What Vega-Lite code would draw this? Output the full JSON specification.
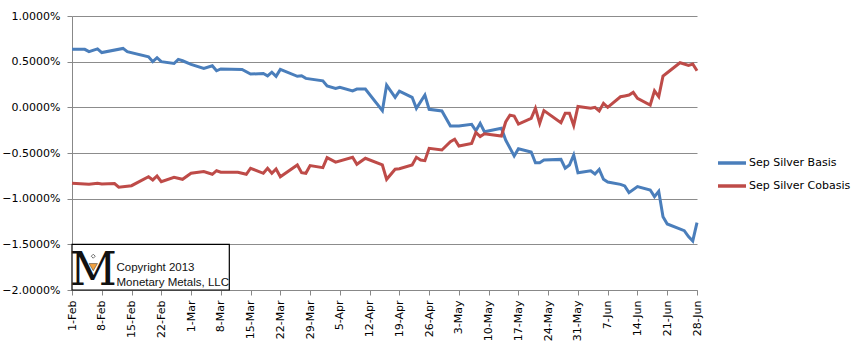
{
  "$schema": "https://vega.github.io/schema/vega-lite/v6.json",
  "width": 625,
  "height": 274,
  "autosize": {"type": "none"},
  "padding": {"left": 72, "top": 16, "right": 162, "bottom": 61},
  "background": "white",
  "config": {
    "view": {"stroke": null},
    "font": "DejaVu Sans",
    "axis": {"labelFont": "DejaVu Sans", "labelFontSize": 11, "labelColor": "#000000"}
  },
  "resolve": {"axis": {"x": "independent", "y": "independent"}},
  "datasets": {
    "series": [
      {"date": "2013-02-01", "series": "Sep Silver Basis", "value": 0.635},
      {"date": "2013-02-04", "series": "Sep Silver Basis", "value": 0.635},
      {"date": "2013-02-05", "series": "Sep Silver Basis", "value": 0.61},
      {"date": "2013-02-07", "series": "Sep Silver Basis", "value": 0.64},
      {"date": "2013-02-08", "series": "Sep Silver Basis", "value": 0.6},
      {"date": "2013-02-13", "series": "Sep Silver Basis", "value": 0.645},
      {"date": "2013-02-14", "series": "Sep Silver Basis", "value": 0.61},
      {"date": "2013-02-19", "series": "Sep Silver Basis", "value": 0.554},
      {"date": "2013-02-20", "series": "Sep Silver Basis", "value": 0.5},
      {"date": "2013-02-21", "series": "Sep Silver Basis", "value": 0.543},
      {"date": "2013-02-22", "series": "Sep Silver Basis", "value": 0.5},
      {"date": "2013-02-25", "series": "Sep Silver Basis", "value": 0.48},
      {"date": "2013-02-26", "series": "Sep Silver Basis", "value": 0.525},
      {"date": "2013-02-27", "series": "Sep Silver Basis", "value": 0.51},
      {"date": "2013-03-01", "series": "Sep Silver Basis", "value": 0.47},
      {"date": "2013-03-04", "series": "Sep Silver Basis", "value": 0.427},
      {"date": "2013-03-06", "series": "Sep Silver Basis", "value": 0.455},
      {"date": "2013-03-07", "series": "Sep Silver Basis", "value": 0.4},
      {"date": "2013-03-08", "series": "Sep Silver Basis", "value": 0.42},
      {"date": "2013-03-13", "series": "Sep Silver Basis", "value": 0.415},
      {"date": "2013-03-15", "series": "Sep Silver Basis", "value": 0.364},
      {"date": "2013-03-18", "series": "Sep Silver Basis", "value": 0.37},
      {"date": "2013-03-19", "series": "Sep Silver Basis", "value": 0.345},
      {"date": "2013-03-20", "series": "Sep Silver Basis", "value": 0.385},
      {"date": "2013-03-21", "series": "Sep Silver Basis", "value": 0.34},
      {"date": "2013-03-22", "series": "Sep Silver Basis", "value": 0.415},
      {"date": "2013-03-26", "series": "Sep Silver Basis", "value": 0.34},
      {"date": "2013-03-27", "series": "Sep Silver Basis", "value": 0.345},
      {"date": "2013-03-28", "series": "Sep Silver Basis", "value": 0.317},
      {"date": "2013-04-01", "series": "Sep Silver Basis", "value": 0.29},
      {"date": "2013-04-02", "series": "Sep Silver Basis", "value": 0.233},
      {"date": "2013-04-04", "series": "Sep Silver Basis", "value": 0.207},
      {"date": "2013-04-05", "series": "Sep Silver Basis", "value": 0.22},
      {"date": "2013-04-08", "series": "Sep Silver Basis", "value": 0.18},
      {"date": "2013-04-09", "series": "Sep Silver Basis", "value": 0.2},
      {"date": "2013-04-11", "series": "Sep Silver Basis", "value": 0.2},
      {"date": "2013-04-15", "series": "Sep Silver Basis", "value": -0.037},
      {"date": "2013-04-16", "series": "Sep Silver Basis", "value": 0.244},
      {"date": "2013-04-18", "series": "Sep Silver Basis", "value": 0.11},
      {"date": "2013-04-19", "series": "Sep Silver Basis", "value": 0.178},
      {"date": "2013-04-22", "series": "Sep Silver Basis", "value": 0.11},
      {"date": "2013-04-23", "series": "Sep Silver Basis", "value": -0.011},
      {"date": "2013-04-25", "series": "Sep Silver Basis", "value": 0.135},
      {"date": "2013-04-26", "series": "Sep Silver Basis", "value": -0.022},
      {"date": "2013-04-29", "series": "Sep Silver Basis", "value": -0.04},
      {"date": "2013-05-01", "series": "Sep Silver Basis", "value": -0.205},
      {"date": "2013-05-03", "series": "Sep Silver Basis", "value": -0.205},
      {"date": "2013-05-06", "series": "Sep Silver Basis", "value": -0.186},
      {"date": "2013-05-07", "series": "Sep Silver Basis", "value": -0.256},
      {"date": "2013-05-08", "series": "Sep Silver Basis", "value": -0.175},
      {"date": "2013-05-09", "series": "Sep Silver Basis", "value": -0.267},
      {"date": "2013-05-13", "series": "Sep Silver Basis", "value": -0.23},
      {"date": "2013-05-14", "series": "Sep Silver Basis", "value": -0.358},
      {"date": "2013-05-16", "series": "Sep Silver Basis", "value": -0.533},
      {"date": "2013-05-17", "series": "Sep Silver Basis", "value": -0.453},
      {"date": "2013-05-20", "series": "Sep Silver Basis", "value": -0.489},
      {"date": "2013-05-21", "series": "Sep Silver Basis", "value": -0.606},
      {"date": "2013-05-22", "series": "Sep Silver Basis", "value": -0.606},
      {"date": "2013-05-23", "series": "Sep Silver Basis", "value": -0.577},
      {"date": "2013-05-27", "series": "Sep Silver Basis", "value": -0.57},
      {"date": "2013-05-28", "series": "Sep Silver Basis", "value": -0.667},
      {"date": "2013-05-29", "series": "Sep Silver Basis", "value": -0.631},
      {"date": "2013-05-30", "series": "Sep Silver Basis", "value": -0.522},
      {"date": "2013-05-31", "series": "Sep Silver Basis", "value": -0.716},
      {"date": "2013-06-03", "series": "Sep Silver Basis", "value": -0.694},
      {"date": "2013-06-04", "series": "Sep Silver Basis", "value": -0.73},
      {"date": "2013-06-05", "series": "Sep Silver Basis", "value": -0.68},
      {"date": "2013-06-06", "series": "Sep Silver Basis", "value": -0.788},
      {"date": "2013-06-07", "series": "Sep Silver Basis", "value": -0.817},
      {"date": "2013-06-10", "series": "Sep Silver Basis", "value": -0.843},
      {"date": "2013-06-11", "series": "Sep Silver Basis", "value": -0.86},
      {"date": "2013-06-12", "series": "Sep Silver Basis", "value": -0.934},
      {"date": "2013-06-14", "series": "Sep Silver Basis", "value": -0.868},
      {"date": "2013-06-17", "series": "Sep Silver Basis", "value": -0.905},
      {"date": "2013-06-18", "series": "Sep Silver Basis", "value": -0.978},
      {"date": "2013-06-19", "series": "Sep Silver Basis", "value": -0.919},
      {"date": "2013-06-20", "series": "Sep Silver Basis", "value": -1.197},
      {"date": "2013-06-21", "series": "Sep Silver Basis", "value": -1.277},
      {"date": "2013-06-25", "series": "Sep Silver Basis", "value": -1.35},
      {"date": "2013-06-26", "series": "Sep Silver Basis", "value": -1.415},
      {"date": "2013-06-27", "series": "Sep Silver Basis", "value": -1.463},
      {"date": "2013-06-28", "series": "Sep Silver Basis", "value": -1.262},
      {"date": "2013-02-01", "series": "Sep Silver Cobasis", "value": -0.832},
      {"date": "2013-02-05", "series": "Sep Silver Cobasis", "value": -0.843},
      {"date": "2013-02-07", "series": "Sep Silver Cobasis", "value": -0.832},
      {"date": "2013-02-08", "series": "Sep Silver Cobasis", "value": -0.84},
      {"date": "2013-02-11", "series": "Sep Silver Cobasis", "value": -0.835},
      {"date": "2013-02-12", "series": "Sep Silver Cobasis", "value": -0.875},
      {"date": "2013-02-15", "series": "Sep Silver Cobasis", "value": -0.858},
      {"date": "2013-02-19", "series": "Sep Silver Cobasis", "value": -0.76},
      {"date": "2013-02-20", "series": "Sep Silver Cobasis", "value": -0.795},
      {"date": "2013-02-21", "series": "Sep Silver Cobasis", "value": -0.752},
      {"date": "2013-02-22", "series": "Sep Silver Cobasis", "value": -0.814},
      {"date": "2013-02-25", "series": "Sep Silver Cobasis", "value": -0.766},
      {"date": "2013-02-27", "series": "Sep Silver Cobasis", "value": -0.788},
      {"date": "2013-03-01", "series": "Sep Silver Cobasis", "value": -0.722},
      {"date": "2013-03-04", "series": "Sep Silver Cobasis", "value": -0.704},
      {"date": "2013-03-06", "series": "Sep Silver Cobasis", "value": -0.733},
      {"date": "2013-03-07", "series": "Sep Silver Cobasis", "value": -0.694},
      {"date": "2013-03-08", "series": "Sep Silver Cobasis", "value": -0.71},
      {"date": "2013-03-12", "series": "Sep Silver Cobasis", "value": -0.71},
      {"date": "2013-03-14", "series": "Sep Silver Cobasis", "value": -0.733},
      {"date": "2013-03-15", "series": "Sep Silver Cobasis", "value": -0.667},
      {"date": "2013-03-18", "series": "Sep Silver Cobasis", "value": -0.722},
      {"date": "2013-03-19", "series": "Sep Silver Cobasis", "value": -0.667},
      {"date": "2013-03-20", "series": "Sep Silver Cobasis", "value": -0.722},
      {"date": "2013-03-21", "series": "Sep Silver Cobasis", "value": -0.675},
      {"date": "2013-03-22", "series": "Sep Silver Cobasis", "value": -0.76},
      {"date": "2013-03-26", "series": "Sep Silver Cobasis", "value": -0.631},
      {"date": "2013-03-27", "series": "Sep Silver Cobasis", "value": -0.716},
      {"date": "2013-03-28", "series": "Sep Silver Cobasis", "value": -0.722},
      {"date": "2013-03-29", "series": "Sep Silver Cobasis", "value": -0.638},
      {"date": "2013-04-01", "series": "Sep Silver Cobasis", "value": -0.66},
      {"date": "2013-04-02", "series": "Sep Silver Cobasis", "value": -0.551},
      {"date": "2013-04-04", "series": "Sep Silver Cobasis", "value": -0.6},
      {"date": "2013-04-08", "series": "Sep Silver Cobasis", "value": -0.547},
      {"date": "2013-04-09", "series": "Sep Silver Cobasis", "value": -0.624},
      {"date": "2013-04-11", "series": "Sep Silver Cobasis", "value": -0.558},
      {"date": "2013-04-15", "series": "Sep Silver Cobasis", "value": -0.631},
      {"date": "2013-04-16", "series": "Sep Silver Cobasis", "value": -0.788},
      {"date": "2013-04-18", "series": "Sep Silver Cobasis", "value": -0.678},
      {"date": "2013-04-19", "series": "Sep Silver Cobasis", "value": -0.672},
      {"date": "2013-04-22", "series": "Sep Silver Cobasis", "value": -0.631},
      {"date": "2013-04-23", "series": "Sep Silver Cobasis", "value": -0.547},
      {"date": "2013-04-24", "series": "Sep Silver Cobasis", "value": -0.577},
      {"date": "2013-04-25", "series": "Sep Silver Cobasis", "value": -0.584},
      {"date": "2013-04-26", "series": "Sep Silver Cobasis", "value": -0.449},
      {"date": "2013-04-29", "series": "Sep Silver Cobasis", "value": -0.467},
      {"date": "2013-05-01", "series": "Sep Silver Cobasis", "value": -0.376},
      {"date": "2013-05-02", "series": "Sep Silver Cobasis", "value": -0.35},
      {"date": "2013-05-03", "series": "Sep Silver Cobasis", "value": -0.423},
      {"date": "2013-05-06", "series": "Sep Silver Cobasis", "value": -0.395},
      {"date": "2013-05-07", "series": "Sep Silver Cobasis", "value": -0.275},
      {"date": "2013-05-08", "series": "Sep Silver Cobasis", "value": -0.32},
      {"date": "2013-05-09", "series": "Sep Silver Cobasis", "value": -0.29},
      {"date": "2013-05-13", "series": "Sep Silver Cobasis", "value": -0.314},
      {"date": "2013-05-14", "series": "Sep Silver Cobasis", "value": -0.16},
      {"date": "2013-05-15", "series": "Sep Silver Cobasis", "value": -0.085},
      {"date": "2013-05-16", "series": "Sep Silver Cobasis", "value": -0.095},
      {"date": "2013-05-17", "series": "Sep Silver Cobasis", "value": -0.183},
      {"date": "2013-05-20", "series": "Sep Silver Cobasis", "value": -0.12},
      {"date": "2013-05-21", "series": "Sep Silver Cobasis", "value": -0.011},
      {"date": "2013-05-22", "series": "Sep Silver Cobasis", "value": -0.175},
      {"date": "2013-05-23", "series": "Sep Silver Cobasis", "value": -0.035},
      {"date": "2013-05-27", "series": "Sep Silver Cobasis", "value": -0.168},
      {"date": "2013-05-28", "series": "Sep Silver Cobasis", "value": -0.066},
      {"date": "2013-05-29", "series": "Sep Silver Cobasis", "value": -0.066},
      {"date": "2013-05-30", "series": "Sep Silver Cobasis", "value": -0.2},
      {"date": "2013-05-31", "series": "Sep Silver Cobasis", "value": 0.01},
      {"date": "2013-06-03", "series": "Sep Silver Cobasis", "value": -0.01},
      {"date": "2013-06-04", "series": "Sep Silver Cobasis", "value": 0.0},
      {"date": "2013-06-05", "series": "Sep Silver Cobasis", "value": -0.04},
      {"date": "2013-06-06", "series": "Sep Silver Cobasis", "value": 0.044},
      {"date": "2013-06-07", "series": "Sep Silver Cobasis", "value": 0.0},
      {"date": "2013-06-10", "series": "Sep Silver Cobasis", "value": 0.116},
      {"date": "2013-06-11", "series": "Sep Silver Cobasis", "value": 0.125},
      {"date": "2013-06-12", "series": "Sep Silver Cobasis", "value": 0.135},
      {"date": "2013-06-13", "series": "Sep Silver Cobasis", "value": 0.164},
      {"date": "2013-06-14", "series": "Sep Silver Cobasis", "value": 0.098},
      {"date": "2013-06-17", "series": "Sep Silver Cobasis", "value": 0.025},
      {"date": "2013-06-18", "series": "Sep Silver Cobasis", "value": 0.18},
      {"date": "2013-06-19", "series": "Sep Silver Cobasis", "value": 0.116},
      {"date": "2013-06-20", "series": "Sep Silver Cobasis", "value": 0.342},
      {"date": "2013-06-21", "series": "Sep Silver Cobasis", "value": 0.379},
      {"date": "2013-06-24", "series": "Sep Silver Cobasis", "value": 0.488},
      {"date": "2013-06-25", "series": "Sep Silver Cobasis", "value": 0.474},
      {"date": "2013-06-26", "series": "Sep Silver Cobasis", "value": 0.46},
      {"date": "2013-06-27", "series": "Sep Silver Cobasis", "value": 0.474},
      {"date": "2013-06-28", "series": "Sep Silver Cobasis", "value": 0.4}
    ]
  },
  "layer": [
    {
      "data": {"name": "series"},
      "mark": {"type": "line", "strokeWidth": 3, "interpolate": "linear"},
      "encoding": {
        "x": {
          "field": "date",
          "type": "temporal",
          "scale": {
            "type": "utc",
            "domain": [
              {"year": 2013, "month": 2, "date": 1, "utc": true},
              {"year": 2013, "month": 6, "date": 28, "utc": true}
            ]
          },
          "axis": {
            "title": null,
            "values": [
              {"year": 2013, "month": 2, "date": 1, "utc": true},
              {"year": 2013, "month": 2, "date": 8, "utc": true},
              {"year": 2013, "month": 2, "date": 15, "utc": true},
              {"year": 2013, "month": 2, "date": 22, "utc": true},
              {"year": 2013, "month": 3, "date": 1, "utc": true},
              {"year": 2013, "month": 3, "date": 8, "utc": true},
              {"year": 2013, "month": 3, "date": 15, "utc": true},
              {"year": 2013, "month": 3, "date": 22, "utc": true},
              {"year": 2013, "month": 3, "date": 29, "utc": true},
              {"year": 2013, "month": 4, "date": 5, "utc": true},
              {"year": 2013, "month": 4, "date": 12, "utc": true},
              {"year": 2013, "month": 4, "date": 19, "utc": true},
              {"year": 2013, "month": 4, "date": 26, "utc": true},
              {"year": 2013, "month": 5, "date": 3, "utc": true},
              {"year": 2013, "month": 5, "date": 10, "utc": true},
              {"year": 2013, "month": 5, "date": 17, "utc": true},
              {"year": 2013, "month": 5, "date": 24, "utc": true},
              {"year": 2013, "month": 5, "date": 31, "utc": true},
              {"year": 2013, "month": 6, "date": 7, "utc": true},
              {"year": 2013, "month": 6, "date": 14, "utc": true},
              {"year": 2013, "month": 6, "date": 21, "utc": true},
              {"year": 2013, "month": 6, "date": 28, "utc": true}
            ],
            "labelExpr": "utcFormat(datum.value, '%-d-%b')",
            "labelAngle": -90,
            "labelPadding": 5,
            "labelFontSize": 11,
            "labelOverlap": false,
            "labelFlush": false,
            "grid": false,
            "ticks": true,
            "domainColor": "#888888",
            "tickColor": "#888888",
            "tickSize": 5,
            "offset": 0
          }
        },
        "y": {
          "field": "value",
          "type": "quantitative",
          "scale": {"domain": [-2, 1], "nice": false, "zero": false},
          "axis": {
            "title": null,
            "values": [-2, -1.5, -1, -0.5, 0, 0.5, 1],
            "labelExpr": "format(datum.value, '.4f') + '%'",
            "labelPadding": 7,
            "labelFontSize": 11,
            "grid": true,
            "ticks": true,
            "gridColor": "#8c8c8c",
            "gridWidth": 1,
            "domainColor": "#888888",
            "tickColor": "#888888",
            "tickSize": 5
          }
        },
        "color": {
          "field": "series",
          "type": "nominal",
          "scale": {
            "domain": ["Sep Silver Basis", "Sep Silver Cobasis"],
            "range": ["#4A7EBB", "#BE4B48"]
          },
          "legend": {
            "title": null,
            "orient": "none",
            "legendX": 644,
            "legendY": 131,
            "symbolType": "stroke",
            "symbolSize": 784,
            "symbolStrokeWidth": 3.5,
            "labelFont": "DejaVu Sans",
            "labelFontSize": 11,
            "labelColor": "#000000",
            "labelOffset": 1,
            "rowPadding": 0
          }
        }
      }
    },
    {
      "data": {"values": [{}]},
      "mark": {"type": "rect", "fill": "white", "stroke": "#000000", "strokeWidth": 1.2},
      "encoding": {
        "x": {"datum": {"year": 2013, "month": 2, "date": 1, "utc": true}, "type": "temporal", "axis": null},
        "x2": {"datum": {"year": 2013, "month": 3, "date": 10, "utc": true}},
        "y": {"datum": -1.5, "type": "quantitative", "axis": null},
        "y2": {"datum": -2.0}
      }
    },
    {
      "data": {"values": [{}]},
      "mark": {"type": "text", "text": "M", "font": "DejaVu Serif", "fontSize": 46, "align": "center", "baseline": "alphabetic", "color": "#111111"},
      "encoding": {
        "x": {"datum": {"year": 2013, "month": 2, "date": 6, "utc": true}, "type": "temporal", "axis": null},
        "y": {"datum": -1.95, "type": "quantitative", "axis": null}
      }
    },
    {
      "data": {"values": [{}]},
      "mark": {"type": "point", "shape": "triangle-down", "filled": true, "size": 70, "fill": "#F0A040", "stroke": "#333333", "strokeWidth": 0.5, "opacity": 1},
      "encoding": {
        "x": {"datum": {"year": 2013, "month": 2, "date": 6, "utc": true}, "type": "temporal", "axis": null},
        "y": {"datum": -1.75, "type": "quantitative", "axis": null}
      }
    },
    {
      "data": {"values": [{}]},
      "mark": {"type": "point", "shape": "diamond", "filled": false, "size": 16, "color": "#333333", "strokeWidth": 1},
      "encoding": {
        "x": {"datum": {"year": 2013, "month": 2, "date": 6, "utc": true}, "type": "temporal", "axis": null},
        "y": {"datum": -1.63, "type": "quantitative", "axis": null}
      }
    },
    {
      "data": {"values": [{}]},
      "mark": {"type": "text", "text": "Copyright 2013", "font": "Liberation Sans", "fontSize": 11.5, "align": "left", "baseline": "middle", "dx": 2, "color": "#111111"},
      "encoding": {
        "x": {"datum": {"year": 2013, "month": 2, "date": 11, "utc": true}, "type": "temporal", "axis": null},
        "y": {"datum": -1.758, "type": "quantitative", "axis": null}
      }
    },
    {
      "data": {"values": [{}]},
      "mark": {"type": "text", "text": "Monetary Metals, LLC", "font": "Liberation Sans", "fontSize": 11.5, "align": "left", "baseline": "middle", "dx": 2, "color": "#111111"},
      "encoding": {
        "x": {"datum": {"year": 2013, "month": 2, "date": 11, "utc": true}, "type": "temporal", "axis": null},
        "y": {"datum": -1.922, "type": "quantitative", "axis": null}
      }
    }
  ]
}
